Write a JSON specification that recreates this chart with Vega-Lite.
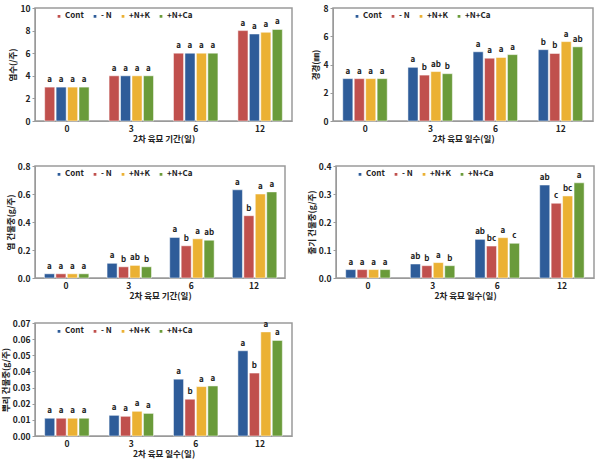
{
  "$schema": "https://vega.github.io/schema/vega-lite/v6.json",
  "background": "white",
  "padding": {"left": 0, "top": 3, "right": 5, "bottom": 2},
  "spacing": 17,
  "config": {
    "font": "Noto Sans CJK KR",
    "view": {"stroke": "#9a9a9a", "strokeWidth": 1.5},
    "axis": {"grid": false, "domainColor": "#9a9a9a", "tickColor": "#9a9a9a", "labelFontSize": 8.5, "labelFontWeight": "bold", "labelColor": "#222", "titleFontSize": 8.5, "titleFontWeight": "bold", "titleColor": "#222"},
    "axisX": {"ticks": false, "labelAngle": 0, "labelPadding": 3, "titlePadding": 2},
    "axisY": {"tickSize": 3, "labelPadding": 2, "titlePadding": 2},
    "legend": {"orient": "none", "direction": "horizontal", "columns": 4, "symbolType": "square", "symbolSize": 18, "labelFontSize": 8, "labelFontWeight": "bold", "labelColor": "#222", "labelOffset": 2, "columnPadding": 5, "title": null, "legendX": 20, "legendY": 4}
  },
  "datasets": {
    "d": [
      {"p": 1, "day": "0", "trt": "Cont", "v": 3, "s": "a"},
      {"p": 1, "day": "0", "trt": "- N", "v": 3, "s": "a"},
      {"p": 1, "day": "0", "trt": "+N+K", "v": 3, "s": "a"},
      {"p": 1, "day": "0", "trt": "+N+Ca", "v": 3, "s": "a"},
      {"p": 1, "day": "3", "trt": "Cont", "v": 4, "s": "a"},
      {"p": 1, "day": "3", "trt": "- N", "v": 4, "s": "a"},
      {"p": 1, "day": "3", "trt": "+N+K", "v": 4, "s": "a"},
      {"p": 1, "day": "3", "trt": "+N+Ca", "v": 4, "s": "a"},
      {"p": 1, "day": "6", "trt": "Cont", "v": 6, "s": "a"},
      {"p": 1, "day": "6", "trt": "- N", "v": 6, "s": "a"},
      {"p": 1, "day": "6", "trt": "+N+K", "v": 6, "s": "a"},
      {"p": 1, "day": "6", "trt": "+N+Ca", "v": 6, "s": "a"},
      {"p": 1, "day": "12", "trt": "Cont", "v": 8, "s": "a"},
      {"p": 1, "day": "12", "trt": "- N", "v": 7.7, "s": "a"},
      {"p": 1, "day": "12", "trt": "+N+K", "v": 7.85, "s": "a"},
      {"p": 1, "day": "12", "trt": "+N+Ca", "v": 8.1, "s": "a"},

      {"p": 2, "day": "0", "trt": "Cont", "v": 3, "s": "a"},
      {"p": 2, "day": "0", "trt": "- N", "v": 3, "s": "a"},
      {"p": 2, "day": "0", "trt": "+N+K", "v": 3, "s": "a"},
      {"p": 2, "day": "0", "trt": "+N+Ca", "v": 3, "s": "a"},
      {"p": 2, "day": "3", "trt": "Cont", "v": 3.8, "s": "a"},
      {"p": 2, "day": "3", "trt": "- N", "v": 3.25, "s": "b"},
      {"p": 2, "day": "3", "trt": "+N+K", "v": 3.5, "s": "ab"},
      {"p": 2, "day": "3", "trt": "+N+Ca", "v": 3.35, "s": "b"},
      {"p": 2, "day": "6", "trt": "Cont", "v": 4.9, "s": "a"},
      {"p": 2, "day": "6", "trt": "- N", "v": 4.45, "s": "a"},
      {"p": 2, "day": "6", "trt": "+N+K", "v": 4.5, "s": "a"},
      {"p": 2, "day": "6", "trt": "+N+Ca", "v": 4.7, "s": "a"},
      {"p": 2, "day": "12", "trt": "Cont", "v": 5.05, "s": "b"},
      {"p": 2, "day": "12", "trt": "- N", "v": 4.78, "s": "b"},
      {"p": 2, "day": "12", "trt": "+N+K", "v": 5.62, "s": "a"},
      {"p": 2, "day": "12", "trt": "+N+Ca", "v": 5.25, "s": "ab"},

      {"p": 3, "day": "0", "trt": "Cont", "v": 0.03, "s": "a"},
      {"p": 3, "day": "0", "trt": "- N", "v": 0.03, "s": "a"},
      {"p": 3, "day": "0", "trt": "+N+K", "v": 0.03, "s": "a"},
      {"p": 3, "day": "0", "trt": "+N+Ca", "v": 0.03, "s": "a"},
      {"p": 3, "day": "3", "trt": "Cont", "v": 0.105, "s": "a"},
      {"p": 3, "day": "3", "trt": "- N", "v": 0.08, "s": "b"},
      {"p": 3, "day": "3", "trt": "+N+K", "v": 0.09, "s": "ab"},
      {"p": 3, "day": "3", "trt": "+N+Ca", "v": 0.08, "s": "b"},
      {"p": 3, "day": "6", "trt": "Cont", "v": 0.29, "s": "a"},
      {"p": 3, "day": "6", "trt": "- N", "v": 0.23, "s": "b"},
      {"p": 3, "day": "6", "trt": "+N+K", "v": 0.28, "s": "a"},
      {"p": 3, "day": "6", "trt": "+N+Ca", "v": 0.27, "s": "ab"},
      {"p": 3, "day": "12", "trt": "Cont", "v": 0.63, "s": "a"},
      {"p": 3, "day": "12", "trt": "- N", "v": 0.445, "s": "b"},
      {"p": 3, "day": "12", "trt": "+N+K", "v": 0.6, "s": "a"},
      {"p": 3, "day": "12", "trt": "+N+Ca", "v": 0.615, "s": "a"},

      {"p": 4, "day": "0", "trt": "Cont", "v": 0.03, "s": "a"},
      {"p": 4, "day": "0", "trt": "- N", "v": 0.03, "s": "a"},
      {"p": 4, "day": "0", "trt": "+N+K", "v": 0.03, "s": "a"},
      {"p": 4, "day": "0", "trt": "+N+Ca", "v": 0.03, "s": "a"},
      {"p": 4, "day": "3", "trt": "Cont", "v": 0.05, "s": "ab"},
      {"p": 4, "day": "3", "trt": "- N", "v": 0.044, "s": "b"},
      {"p": 4, "day": "3", "trt": "+N+K", "v": 0.055, "s": "a"},
      {"p": 4, "day": "3", "trt": "+N+Ca", "v": 0.044, "s": "b"},
      {"p": 4, "day": "6", "trt": "Cont", "v": 0.138, "s": "ab"},
      {"p": 4, "day": "6", "trt": "- N", "v": 0.114, "s": "bc"},
      {"p": 4, "day": "6", "trt": "+N+K", "v": 0.144, "s": "a"},
      {"p": 4, "day": "6", "trt": "+N+Ca", "v": 0.124, "s": "c"},
      {"p": 4, "day": "12", "trt": "Cont", "v": 0.332, "s": "ab"},
      {"p": 4, "day": "12", "trt": "- N", "v": 0.267, "s": "c"},
      {"p": 4, "day": "12", "trt": "+N+K", "v": 0.293, "s": "bc"},
      {"p": 4, "day": "12", "trt": "+N+Ca", "v": 0.34, "s": "a"},

      {"p": 5, "day": "0", "trt": "Cont", "v": 0.011, "s": "a"},
      {"p": 5, "day": "0", "trt": "- N", "v": 0.011, "s": "a"},
      {"p": 5, "day": "0", "trt": "+N+K", "v": 0.011, "s": "a"},
      {"p": 5, "day": "0", "trt": "+N+Ca", "v": 0.011, "s": "a"},
      {"p": 5, "day": "3", "trt": "Cont", "v": 0.0128, "s": "a"},
      {"p": 5, "day": "3", "trt": "- N", "v": 0.0122, "s": "a"},
      {"p": 5, "day": "3", "trt": "+N+K", "v": 0.0153, "s": "a"},
      {"p": 5, "day": "3", "trt": "+N+Ca", "v": 0.014, "s": "a"},
      {"p": 5, "day": "6", "trt": "Cont", "v": 0.0352, "s": "a"},
      {"p": 5, "day": "6", "trt": "- N", "v": 0.0228, "s": "b"},
      {"p": 5, "day": "6", "trt": "+N+K", "v": 0.0306, "s": "a"},
      {"p": 5, "day": "6", "trt": "+N+Ca", "v": 0.031, "s": "a"},
      {"p": 5, "day": "12", "trt": "Cont", "v": 0.0528, "s": "a"},
      {"p": 5, "day": "12", "trt": "- N", "v": 0.039, "s": "b"},
      {"p": 5, "day": "12", "trt": "+N+K", "v": 0.0645, "s": "a"},
      {"p": 5, "day": "12", "trt": "+N+Ca", "v": 0.0592, "s": "a"}
    ]
  },
  "resolve": {"scale": {"color": "independent"}, "legend": {"color": "independent"}},
  "vconcat": [
    {
      "spacing": 18,
      "hconcat": [
        {
          "width": 257, "height": 113,
          "data": {"name": "d"},
          "transform": [{"filter": "datum.p == 1"}],
          "encoding": {
            "x": {"field": "day", "type": "nominal", "sort": ["0", "3", "6", "12"], "scale": {"paddingInner": 0.31, "paddingOuter": 0.15}, "title": "2차 육묘 기간(일)"},
            "xOffset": {"field": "trt", "type": "nominal", "sort": ["Cont", "- N", "+N+K", "+N+Ca"], "scale": {"paddingInner": 0.12}},
            "y": {"field": "v", "type": "quantitative", "scale": {"domain": [0, 10], "nice": false}, "axis": {"values": [0, 2, 4, 6, 8, 10]}, "title": "엽수(/주)"}
          },
          "layer": [
            {"mark": {"type": "bar", "stroke": "white", "strokeWidth": 0.5},
             "encoding": {"color": {"field": "trt", "type": "nominal", "sort": ["Cont", "- N", "+N+K", "+N+Ca"], "scale": {"domain": ["Cont", "- N", "+N+K", "+N+Ca"], "range": ["#C0504D", "#2E5C99", "#EBB133", "#6A9B3A"]}}}},
            {"mark": {"type": "text", "dy": -7, "fontSize": 8, "fontWeight": "bold", "color": "#222"}, "encoding": {"text": {"field": "s"}}}
          ]
        },
        {
          "width": 260, "height": 113,
          "data": {"name": "d"},
          "transform": [{"filter": "datum.p == 2"}],
          "encoding": {
            "x": {"field": "day", "type": "nominal", "sort": ["0", "3", "6", "12"], "scale": {"paddingInner": 0.31, "paddingOuter": 0.15}, "title": "2차 육묘 일수(일)"},
            "xOffset": {"field": "trt", "type": "nominal", "sort": ["Cont", "- N", "+N+K", "+N+Ca"], "scale": {"paddingInner": 0.12}},
            "y": {"field": "v", "type": "quantitative", "scale": {"domain": [0, 8], "nice": false}, "axis": {"values": [0, 2, 4, 6, 8]}, "title": "경경(㎜)"}
          },
          "layer": [
            {"mark": {"type": "bar", "stroke": "white", "strokeWidth": 0.5},
             "encoding": {"color": {"field": "trt", "type": "nominal", "sort": ["Cont", "- N", "+N+K", "+N+Ca"], "scale": {"domain": ["Cont", "- N", "+N+K", "+N+Ca"], "range": ["#2E5C99", "#C0504D", "#EBB133", "#6A9B3A"]}}}},
            {"mark": {"type": "text", "dy": -7, "fontSize": 8, "fontWeight": "bold", "color": "#222"}, "encoding": {"text": {"field": "s"}}}
          ]
        }
      ],
      "resolve": {"scale": {"color": "independent"}, "legend": {"color": "independent"}}
    },
    {
      "spacing": 20,
      "hconcat": [
        {
          "width": 250, "height": 112,
          "data": {"name": "d"},
          "transform": [{"filter": "datum.p == 3"}],
          "encoding": {
            "x": {"field": "day", "type": "nominal", "sort": ["0", "3", "6", "12"], "scale": {"paddingInner": 0.31, "paddingOuter": 0.15}, "title": "2차 육묘 기간(일)"},
            "xOffset": {"field": "trt", "type": "nominal", "sort": ["Cont", "- N", "+N+K", "+N+Ca"], "scale": {"paddingInner": 0.12}},
            "y": {"field": "v", "type": "quantitative", "scale": {"domain": [0, 0.8], "nice": false}, "axis": {"values": [0, 0.2, 0.4, 0.6, 0.8], "format": ".1f"}, "title": "엽 건물중(g/주)"}
          },
          "layer": [
            {"mark": {"type": "bar", "stroke": "white", "strokeWidth": 0.5},
             "encoding": {"color": {"field": "trt", "type": "nominal", "sort": ["Cont", "- N", "+N+K", "+N+Ca"], "scale": {"domain": ["Cont", "- N", "+N+K", "+N+Ca"], "range": ["#2E5C99", "#C0504D", "#EBB133", "#6A9B3A"]}}}},
            {"mark": {"type": "text", "dy": -7, "fontSize": 8, "fontWeight": "bold", "color": "#222"}, "encoding": {"text": {"field": "s"}}}
          ]
        },
        {
          "width": 258, "height": 112,
          "data": {"name": "d"},
          "transform": [{"filter": "datum.p == 4"}],
          "encoding": {
            "x": {"field": "day", "type": "nominal", "sort": ["0", "3", "6", "12"], "scale": {"paddingInner": 0.31, "paddingOuter": 0.15}, "title": "2차 육묘 일수(일)"},
            "xOffset": {"field": "trt", "type": "nominal", "sort": ["Cont", "- N", "+N+K", "+N+Ca"], "scale": {"paddingInner": 0.12}},
            "y": {"field": "v", "type": "quantitative", "scale": {"domain": [0, 0.4], "nice": false}, "axis": {"values": [0, 0.1, 0.2, 0.3, 0.4], "format": ".1f"}, "title": "줄기 건물중(g/주)"}
          },
          "layer": [
            {"mark": {"type": "bar", "stroke": "white", "strokeWidth": 0.5},
             "encoding": {"color": {"field": "trt", "type": "nominal", "sort": ["Cont", "- N", "+N+K", "+N+Ca"], "scale": {"domain": ["Cont", "- N", "+N+K", "+N+Ca"], "range": ["#2E5C99", "#C0504D", "#EBB133", "#6A9B3A"]}}}},
            {"mark": {"type": "text", "dy": -7, "fontSize": 8, "fontWeight": "bold", "color": "#222"}, "encoding": {"text": {"field": "s"}}}
          ]
        }
      ],
      "resolve": {"scale": {"color": "independent"}, "legend": {"color": "independent"}}
    },
    {
      "width": 257, "height": 113,
      "data": {"name": "d"},
      "transform": [{"filter": "datum.p == 5"}],
      "encoding": {
        "x": {"field": "day", "type": "nominal", "sort": ["0", "3", "6", "12"], "scale": {"paddingInner": 0.31, "paddingOuter": 0.15}, "title": "2차 육묘 일수(일)"},
        "xOffset": {"field": "trt", "type": "nominal", "sort": ["Cont", "- N", "+N+K", "+N+Ca"], "scale": {"paddingInner": 0.12}},
        "y": {"field": "v", "type": "quantitative", "scale": {"domain": [0, 0.07], "nice": false}, "axis": {"values": [0, 0.01, 0.02, 0.03, 0.04, 0.05, 0.06, 0.07], "format": ".2f"}, "title": "뿌리 건물중(g/주)"}
      },
      "layer": [
        {"mark": {"type": "bar", "stroke": "white", "strokeWidth": 0.5},
         "encoding": {"color": {"field": "trt", "type": "nominal", "sort": ["Cont", "- N", "+N+K", "+N+Ca"], "scale": {"domain": ["Cont", "- N", "+N+K", "+N+Ca"], "range": ["#2E5C99", "#C0504D", "#EBB133", "#6A9B3A"]}}}},
        {"mark": {"type": "text", "dy": -7, "fontSize": 8, "fontWeight": "bold", "color": "#222"}, "encoding": {"text": {"field": "s"}}}
      ]
    }
  ]
}
